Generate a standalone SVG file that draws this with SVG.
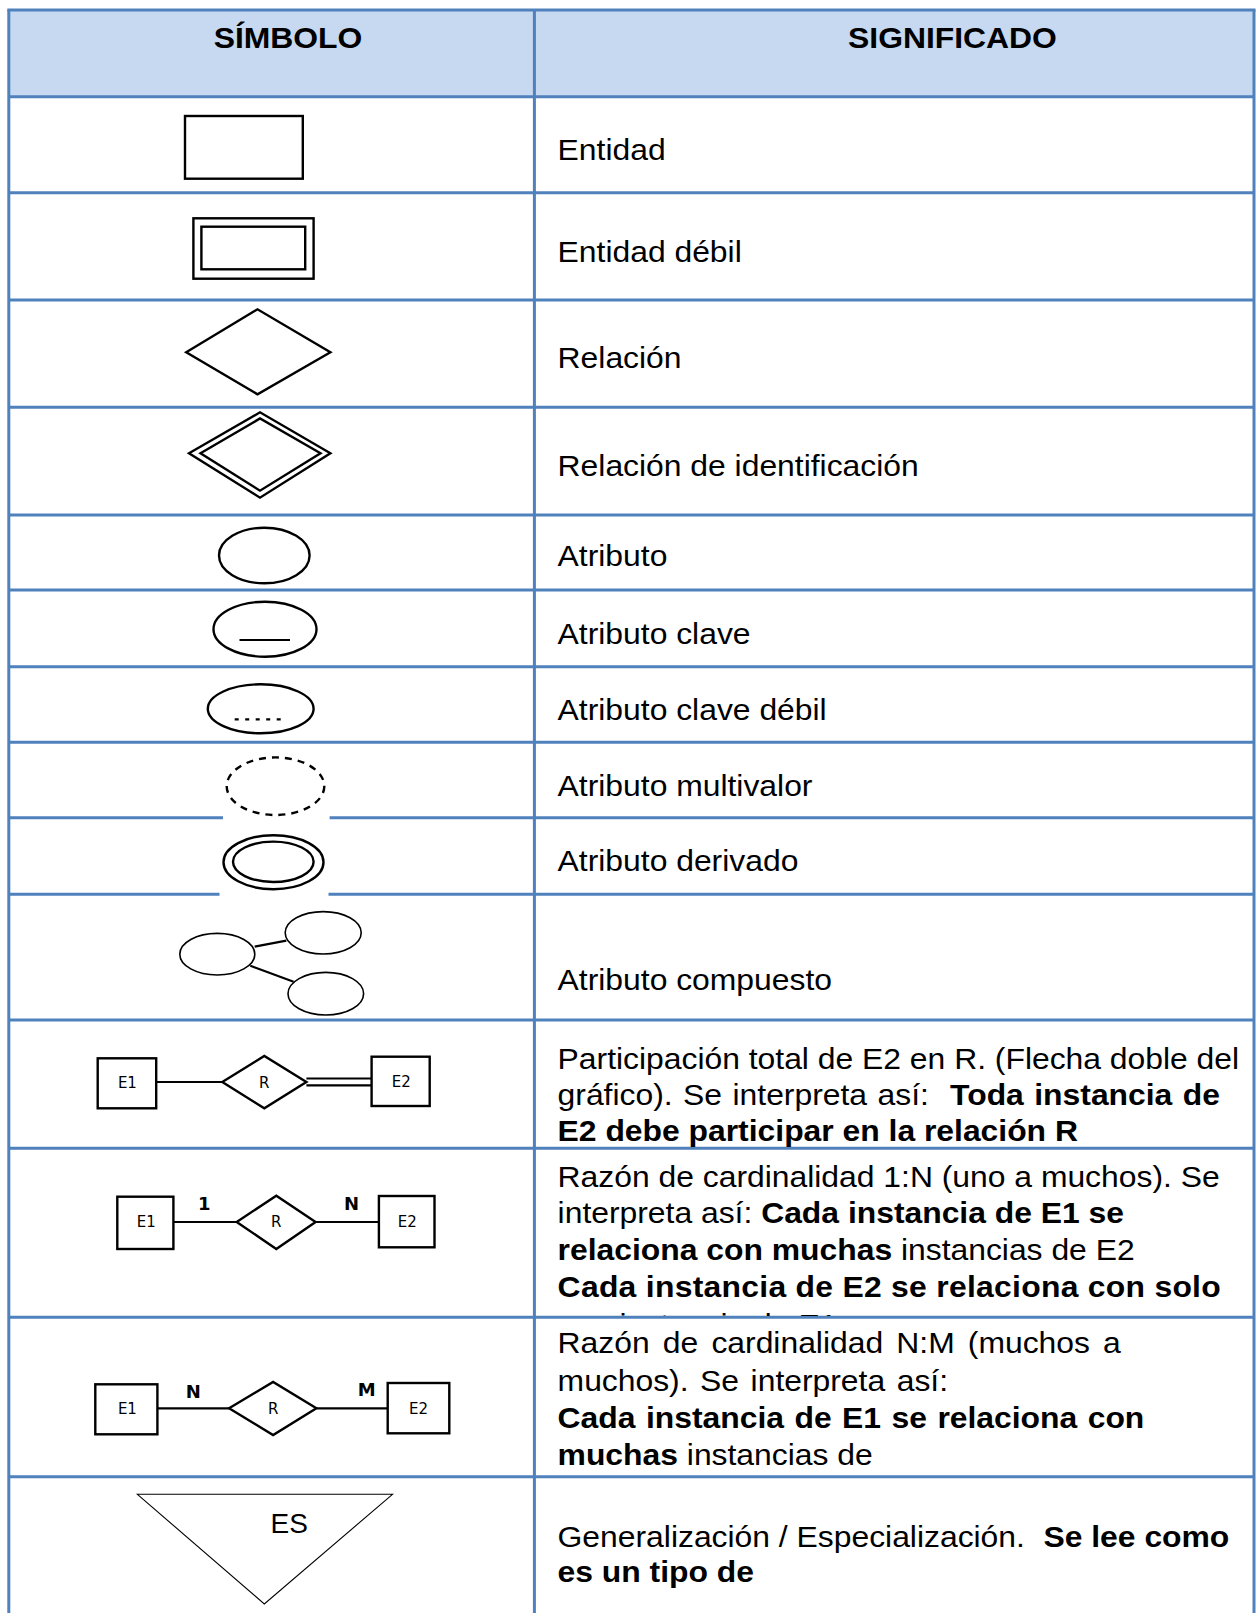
<svg xmlns="http://www.w3.org/2000/svg" width="1257" height="1613" viewBox="0 0 1257 1613">
<style>
.grid{stroke:#4F81BD;stroke-width:3;fill:none}
.shp{fill:#fff;stroke:#000;stroke-width:2.4}
.thin{fill:#fff;stroke:#000;stroke-width:1.6}
.ln{stroke:#000;stroke-width:2.2;fill:none}
.t{font-family:"Liberation Sans",Arial,sans-serif;font-size:29.5px;fill:#000}
.b{font-weight:bold}
.hd{font-family:"Liberation Sans",Arial,sans-serif;font-size:29.5px;font-weight:bold;fill:#000;text-anchor:middle}
.sm{font-family:"DejaVu Sans",sans-serif;font-size:15px;fill:#000;text-anchor:middle}
.lb{font-family:"DejaVu Sans",sans-serif;font-size:18px;font-weight:bold;fill:#000;text-anchor:middle}
</style>
<defs>
<clipPath id="clip1n"><rect x="-20" y="1308" width="700" height="8"/></clipPath>
</defs>
<rect width="1257" height="1613" fill="#fff"/>
<g id="table">
<rect x="8.8" y="10" width="1245.2" height="86.7" fill="#C6D9F1"/>
<line class="grid" x1="8.8" y1="10" x2="8.8" y2="1613"/>
<line class="grid" x1="1254" y1="10" x2="1254" y2="1613"/>
<line class="grid" x1="534.4" y1="10" x2="534.4" y2="1613"/>
<line class="grid" x1="7.3" y1="10" x2="1255.5" y2="10"/>
<line class="grid" x1="8.8" y1="96.7" x2="1254" y2="96.7"/>
<line class="grid" x1="8.8" y1="192.7" x2="1254" y2="192.7"/>
<line class="grid" x1="8.8" y1="300" x2="1254" y2="300"/>
<line class="grid" x1="8.8" y1="407.3" x2="1254" y2="407.3"/>
<line class="grid" x1="8.8" y1="515" x2="1254" y2="515"/>
<line class="grid" x1="8.8" y1="590" x2="1254" y2="590"/>
<line class="grid" x1="8.8" y1="666.7" x2="1254" y2="666.7"/>
<line class="grid" x1="8.8" y1="742.3" x2="1254" y2="742.3"/>
<line class="grid" x1="8.8" y1="817.7" x2="1254" y2="817.7"/>
<line class="grid" x1="8.8" y1="894.3" x2="1254" y2="894.3"/>
<line class="grid" x1="8.8" y1="1020" x2="1254" y2="1020"/>
<line class="grid" x1="8.8" y1="1148.3" x2="1254" y2="1148.3"/>
<line class="grid" x1="8.8" y1="1317.3" x2="1254" y2="1317.3"/>
<line class="grid" x1="8.8" y1="1476.7" x2="1254" y2="1476.7"/>
<rect x="223" y="814" width="106.6" height="8" fill="#fff"/>
<rect x="219.5" y="890.5" width="109" height="8" fill="#fff"/>
<text class="hd" transform="matrix(1.08 0 0 1 288 48.3)">SÍMBOLO</text>
<text class="hd" transform="matrix(1.08 0 0 1 952.5 48.3)">SIGNIFICADO</text>
</g>
<g id="symbols">
<g id="entidad"><rect class="shp" x="185" y="116" width="117.8" height="62.7"/></g>
<g id="entidad-debil"><rect class="shp" x="193.4" y="218.3" width="120.2" height="60.4"/><rect class="shp" x="201.4" y="226.7" width="103.8" height="42.6"/></g>
<g id="relacion"><polygon class="shp" points="186.2,352.3 257.5,309.3 330.4,352.3 257.5,394.3"/></g>
<g id="relacion-ident"><polygon class="shp" points="189,453.3 260,412.3 330.4,453.3 260,497.7"/><polygon class="shp" points="200.5,453.3 260,418.5 320.5,453.3 260,490.7"/></g>
<g id="atributo"><ellipse class="shp" cx="264.3" cy="555.5" rx="45.3" ry="27.8"/></g>
<g id="atributo-clave"><ellipse class="shp" cx="265" cy="629.2" rx="51.5" ry="27.5"/><line class="ln" x1="239.5" y1="640" x2="290" y2="640" stroke-width="2.6"/></g>
<g id="atributo-clave-debil"><ellipse class="shp" cx="260.7" cy="708.8" rx="52.9" ry="24.5"/><line class="ln" x1="234.7" y1="719.3" x2="287" y2="719.3" stroke-dasharray="4 6.5" stroke-width="2"/></g>
<g id="atributo-multivalor"><ellipse class="shp" cx="275.5" cy="786.2" rx="48.8" ry="28.8" stroke-dasharray="7 6"/></g>
<g id="atributo-derivado"><ellipse class="shp" cx="273.5" cy="862.2" rx="50" ry="27"/><ellipse class="shp" cx="273.3" cy="861.8" rx="40.3" ry="20.2"/></g>
<g id="atributo-compuesto">
<ellipse class="thin" cx="217.3" cy="954.2" rx="37.5" ry="20.8"/>
<ellipse class="thin" cx="323.2" cy="932.8" rx="38" ry="21.2"/>
<ellipse class="thin" cx="325.8" cy="993.7" rx="37.8" ry="21.3"/>
</g>
<g id="participacion">
<rect class="shp" x="97.7" y="1058.3" width="58.5" height="50"/>
<text class="sm" x="127.4" y="1088">E1</text>
<polygon class="shp" points="222.3,1082 264.3,1056 306.4,1082 264.3,1108.3"/>
<text class="sm" x="264.3" y="1087.5">R</text>
<rect class="shp" x="371.6" y="1056.7" width="58.1" height="49.3"/>
<text class="sm" x="401.3" y="1087">E2</text>
</g>
<g id="card-1n">
<rect class="shp" x="117.3" y="1196.7" width="56.1" height="52.3"/>
<text class="sm" x="146.2" y="1227">E1</text>
<polygon class="shp" points="236.7,1222 276.3,1195.7 315.6,1222 276.3,1249"/>
<text class="sm" x="276.3" y="1227">R</text>
<rect class="shp" x="378.9" y="1196" width="55.6" height="51.3"/>
<text class="sm" x="407.3" y="1227">E2</text>
<text class="lb" x="204.2" y="1210">1</text>
<text class="lb" x="351.6" y="1210">N</text>
</g>
<g id="card-nm">
<rect class="shp" x="95.3" y="1384.3" width="62.1" height="50"/>
<text class="sm" x="127.4" y="1413.5">E1</text>
<polygon class="shp" points="229.1,1408.3 273.1,1382 316.4,1408.3 273.1,1435"/>
<text class="sm" x="273.1" y="1413.5">R</text>
<rect class="shp" x="387.7" y="1383" width="61.6" height="50.3"/>
<text class="sm" x="418.5" y="1413.5">E2</text>
<text class="lb" x="193.4" y="1398.3">N</text>
<text class="lb" x="366.8" y="1395.7">M</text>
</g>
<g id="generalizacion">
<polygon points="137.4,1494.3 392.5,1494.3 264.3,1604" fill="#fff" stroke="#000" stroke-width="1.1"/>
<text x="289.2" y="1532.7" text-anchor="middle" font-family="Liberation Sans, Arial, sans-serif" font-size="28">ES</text>
</g>
</g>
<g id="connectors">
<line class="ln" x1="254.7" y1="946.7" x2="286.3" y2="940.7" stroke-width="1.6"/>
<line class="ln" x1="250.3" y1="965.7" x2="293.6" y2="981.7" stroke-width="1.6"/>
<line class="ln" x1="156.2" y1="1082" x2="222.3" y2="1082"/>
<line class="ln" x1="306.4" y1="1078.5" x2="371.6" y2="1078.5"/>
<line class="ln" x1="306.4" y1="1085.3" x2="371.6" y2="1085.3"/>
<line class="ln" x1="173.4" y1="1222" x2="236.7" y2="1222"/>
<line class="ln" x1="315.6" y1="1222" x2="378.9" y2="1222"/>
<line class="ln" x1="157.4" y1="1408.3" x2="229.1" y2="1408.3"/>
<line class="ln" x1="316.4" y1="1408.3" x2="387.7" y2="1408.3"/>
</g>
<g id="meanings" transform="matrix(1.08 0 0 1 557.6 0)">
<text class="t" x="0" y="160">Entidad</text>
<text class="t" x="0" y="261.7">Entidad débil</text>
<text class="t" x="0" y="368.3">Relación</text>
<text class="t" x="0" y="476">Relación de identificación</text>
<text class="t" x="0" y="565.7">Atributo</text>
<text class="t" x="0" y="644">Atributo clave</text>
<text class="t" x="0" y="720">Atributo clave débil</text>
<text class="t" x="0" y="795.7">Atributo multivalor</text>
<text class="t" x="0" y="871">Atributo derivado</text>
<text class="t" x="0" y="990">Atributo compuesto</text>
<text class="t" x="0" y="1069.3">Participación total de E2 en R. (Flecha doble del</text>
<text class="t" x="0" y="1105" word-spacing="1.5">gráfico). Se interpreta así: <tspan class="b" dx="10">Toda instancia de</tspan></text>
<text class="t b" x="0" y="1140.7">E2 debe participar en la relación R</text>
<text class="t" x="0" y="1186.7">Razón de cardinalidad 1:N (uno a muchos). Se</text>
<text class="t" x="0" y="1223.3">interpreta así: <tspan class="b">Cada instancia de E1 se</tspan></text>
<text class="t" x="0" y="1260"><tspan class="b">relaciona con muchas</tspan> instancias de E2</text>
<text class="t b" x="0" y="1296.7" textLength="614" lengthAdjust="spacing">Cada instancia de E2 se relaciona con solo</text>
<text class="t" x="0" y="1334.5" clip-path="url(#clip1n)">una instancia de E1</text>
<text class="t" x="0" y="1353.3" word-spacing="4">Razón de cardinalidad N:M (muchos a</text>
<text class="t" x="0" y="1391" word-spacing="2.5">muchos). Se interpreta así:</text>
<text class="t b" x="0" y="1428.3" word-spacing="1.5">Cada instancia de E1 se relaciona con</text>
<text class="t" x="0" y="1465"><tspan class="b">muchas</tspan> instancias de</text>
<text class="t" x="0" y="1546.7">Generalización / Especialización. <tspan class="b" dx="9">Se lee como</tspan></text>
<text class="t b" x="0" y="1581.7">es un tipo de</text>
</g>
</svg>
